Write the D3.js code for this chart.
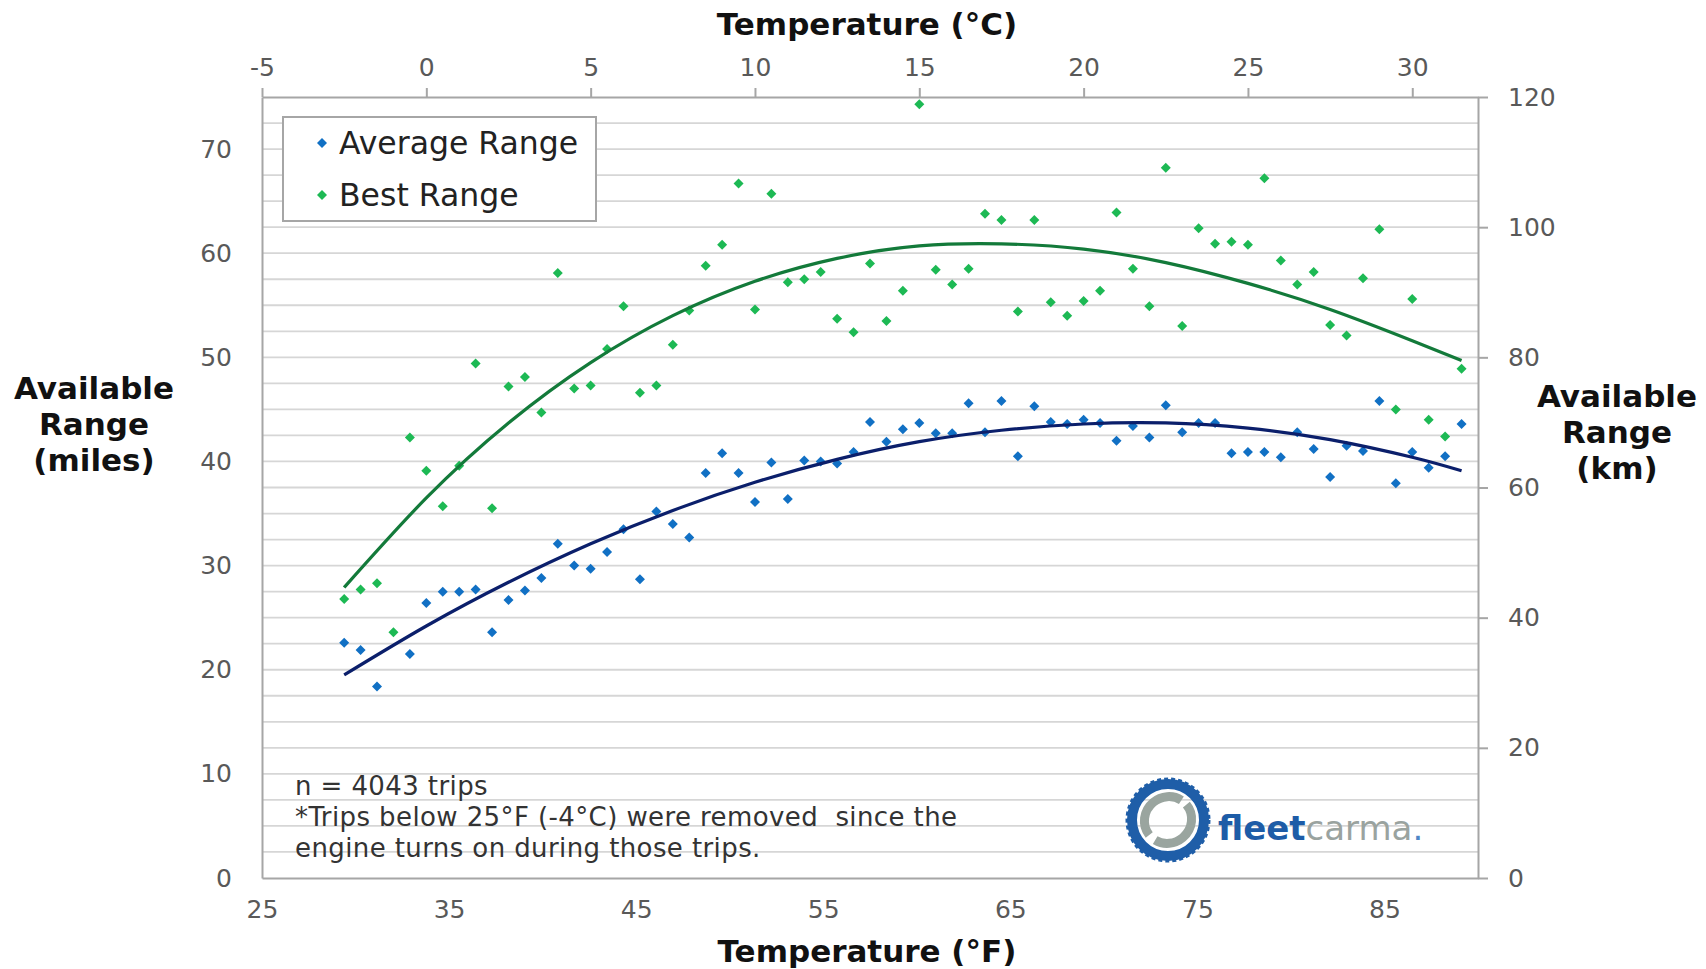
<!DOCTYPE html>
<html>
<head>
<meta charset="utf-8">
<script src="https://cdn.jsdelivr.net/npm/d3@7"></script>
<style>
  html, body { margin: 0; padding: 0; background: #fff; }
  svg { display: block; font-family: 'DejaVu Sans', Verdana, sans-serif; }
</style>
</head>
<body>
<div id="chart"></div>
<script>
// Range vs temperature, 0.5 °C bins
const tempC = [-2.5, -2, -1.5, -1, -0.5, 0, 0.5, 1, 1.5, 2, 2.5, 3, 3.5, 4, 4.5, 5, 5.5, 6, 6.5, 7,
    7.5, 8, 8.5, 9, 9.5, 10, 10.5, 11, 11.5, 12, 12.5, 13, 13.5, 14, 14.5, 15, 15.5, 16, 16.5, 17,
    17.5, 18, 18.5, 19, 19.5, 20, 20.5, 21, 21.5, 22, 22.5, 23, 23.5, 24, 24.5, 25, 25.5, 26, 26.5, 27,
    27.5, 28, 28.5, 29, 29.5, 30, 30.5, 31, 31.5];
const avgRange = [22.6, 21.9, 18.4, null, 21.5, 26.4, 27.5, 27.5, 27.7, 23.6, 26.7, 27.6, 28.8, 32.1, 30.0, 29.7, 31.3, 33.5, 28.7, 35.2,
    34.0, 32.7, 38.9, 40.8, 38.9, 36.1, 39.9, 36.4, 40.1, 40.0, 39.8, 40.9, 43.8, 41.9, 43.1, 43.7, 42.7, 42.7, 45.6, 42.8,
    45.8, 40.5, 45.3, 43.8, 43.6, 44.0, 43.7, 42.0, 43.4, 42.3, 45.4, 42.8, 43.7, 43.7, 40.8, 40.9, 40.9, 40.4, 42.8, 41.2,
    38.5, 41.5, 41.0, 45.8, 37.9, 40.9, 39.4, 40.5, 43.6];
const bestRange = [26.8, 27.7, 28.3, 23.6, 42.3, 39.1, 35.7, 39.6, 49.4, 35.5, 47.2, 48.1, 44.7, 58.1, 47.0, 47.3, 50.8, 54.9, 46.6, 47.3,
    51.2, 54.5, 58.8, 60.8, 66.7, 54.6, 65.7, 57.2, 57.5, 58.2, 53.7, 52.4, 59.0, 53.5, 56.4, 74.3, 58.4, 57.0, 58.5, 63.8,
    63.2, 54.4, 63.2, 55.3, 54.0, 55.4, 56.4, 63.9, 58.5, 54.9, 68.2, 53.0, 62.4, 60.9, 61.1, 60.8, 67.2, 59.3, 57.0, 58.2,
    53.1, 52.1, 57.6, 62.3, 45.0, 55.6, 44.0, 42.4, 48.9];

// trend lines
const trendC = [-2.5, 0, 2.5, 5, 7.5, 10, 12.5, 15, 17.5, 20, 22.5, 25, 27.5, 30, 31.5];
const avgTrend = [19.5, 24.2, 28.4, 32.1, 35.3, 38.0, 40.2, 41.9, 43.0, 43.6, 43.7, 43.2, 42.1, 40.4, 39.1];
const bestTrend = [27.9, 36.5, 43.7, 49.5, 54.0, 57.3, 59.5, 60.7, 60.9, 60.4, 59.1, 57.1, 54.6, 51.6, 49.7];

const fTicks = [25, 35, 45, 55, 65, 75, 85];
const cTicks = [-5, 0, 5, 10, 15, 20, 25, 30];
const mileTicks = [0, 10, 20, 30, 40, 50, 60, 70];
const kmTicks = [0, 20, 40, 60, 80, 100, 120];

const width = 1706, height = 969;
const plot = { left: 262, right: 1478, top: 97, bottom: 878 };
const blue = '#1170c4', green = '#1db954', navy = '#0b1f6b', darkGreen = '#137a3a';
const tickColor = '#595959', axisColor = '#a6a6a6';

const svg = d3.select('#chart').append('svg')
    .attr('width', width)
    .attr('height', height);
svg.append('rect').attr('width', width).attr('height', height).attr('fill', '#fff');

const xF = d3.scaleLinear().domain([25, 90]).range([plot.left, plot.right]);
const xC = d3.scaleLinear().domain([-5, 32]).range([plot.left, plot.right]);
const yMi = d3.scaleLinear().domain([0, 75]).range([plot.bottom, plot.top]);
const yKm = d3.scaleLinear().domain([0, 120]).range([plot.bottom, plot.top]);

// horizontal gridlines every 2.5 miles
svg.append('g')
    .selectAll('line')
    .data(d3.range(2.5, 75, 2.5))
    .enter().append('line')
    .attr('x1', plot.left).attr('x2', plot.right)
    .attr('y1', d => yMi(d)).attr('y2', d => yMi(d))
    .attr('stroke', '#d6d6d6')
    .attr('stroke-width', 1.8);

// axes
const plain = d => String(d);
function styleAxis(g) {
    g.select('.domain').attr('stroke', axisColor).attr('stroke-width', 2);
    g.selectAll('.tick line').attr('stroke', axisColor).attr('stroke-width', 2);
    g.selectAll('.tick text')
        .attr('fill', tickColor)
        .attr('font-size', 25)
        .attr('font-family', "'DejaVu Sans', Verdana, sans-serif");
}
svg.append('g')
    .attr('transform', `translate(0,${plot.bottom})`)
    .call(d3.axisBottom(xF).tickValues(fTicks).tickFormat(plain).tickSize(0).tickPadding(22).tickSizeOuter(0))
    .call(styleAxis);
svg.append('g')
    .attr('transform', `translate(0,${plot.top})`)
    .call(d3.axisTop(xC).tickValues(cTicks).tickFormat(plain).tickSize(9).tickPadding(12).tickSizeOuter(0))
    .call(styleAxis);
svg.append('g')
    .attr('transform', `translate(${plot.left},0)`)
    .call(d3.axisLeft(yMi).tickValues(mileTicks).tickFormat(plain).tickSize(0).tickPadding(30).tickSizeOuter(0))
    .call(styleAxis);
svg.append('g')
    .attr('transform', `translate(${plot.right},0)`)
    .call(d3.axisRight(yKm).tickValues(kmTicks).tickFormat(plain).tickSize(10).tickPadding(20).tickSizeOuter(0))
    .call(styleAxis);

// axis titles
const title = (x, y, lines) => {
    const t = svg.append('text')
        .attr('x', x).attr('y', y)
        .attr('text-anchor', 'middle')
        .attr('font-size', 31)
        .attr('font-weight', 'bold')
        .attr('fill', '#111');
    lines.forEach((l, i) => t.append('tspan').attr('x', x).attr('dy', i ? 36 : 0).text(l));
};
title(867, 35, ['Temperature (°C)']);
title(867, 962, ['Temperature (°F)']);
title(94, 399, ['Available', 'Range', '(miles)']);
title(1617, 407, ['Available', 'Range', '(km)']);

// scatter points (diamonds)
const diamond = d3.symbol().type(d3.symbolSquare).size(50);
const scatter = (vals, color) => {
    svg.append('g')
        .selectAll('path')
        .data(tempC.map((c, i) => [c, vals[i]]).filter(d => d[1] != null))
        .enter().append('path')
        .attr('d', diamond)
        .attr('transform', d => `translate(${xC(d[0])},${yMi(d[1])}) rotate(45)`)
        .attr('fill', color);
};
scatter(avgRange, blue);
scatter(bestRange, green);

// trend lines
const trend = (vs, color) => {
    svg.append('path')
        .datum(trendC.map((c, i) => [c, vs[i]]))
        .attr('fill', 'none')
        .attr('stroke', color)
        .attr('stroke-width', 3.2)
        .attr('d', d3.line().x(d => xC(d[0])).y(d => yMi(d[1])).curve(d3.curveNatural));
};
trend(avgTrend, navy);
trend(bestTrend, darkGreen);

// legend
const legend = svg.append('g');
legend.append('rect')
    .attr('x', 283).attr('y', 117).attr('width', 313).attr('height', 104)
    .attr('fill', '#fff').attr('stroke', '#a6a6a6').attr('stroke-width', 2);
[['Average Range', blue], ['Best Range', green]].forEach(([name, color], i) => {
    const cy = 143 + i * 52;
    legend.append('path')
        .attr('d', diamond)
        .attr('transform', `translate(322,${cy}) rotate(45)`)
        .attr('fill', color);
    legend.append('text')
        .attr('x', 339).attr('y', cy + 11)
        .attr('font-size', 31.5)
        .attr('fill', '#222')
        .text(name);
});

// notes
const notes = ['n = 4043 trips', '*Trips below 25°F (-4°C) were removed  since the', 'engine turns on during those trips.'];
const note = svg.append('text')
    .attr('x', 295).attr('y', 795)
    .attr('font-size', 26)
    .attr('letter-spacing', 0.4)
    .attr('fill', '#333');
notes.forEach((l, i) => note.append('tspan').attr('x', 295).attr('dy', i ? 31 : 0).attr('xml:space', 'preserve').text(l));

// fleetcarma logo
const logo = svg.append('g').attr('transform', 'translate(1168,820)');
logo.append('circle').attr('r', 36).attr('fill', 'none').attr('stroke', '#1f5ea8').attr('stroke-width', 10);
logo.append('circle').attr('r', 41).attr('fill', 'none').attr('stroke', '#1f5ea8')
    .attr('stroke-width', 3).attr('stroke-dasharray', '4 3');
logo.append('ellipse').attr('rx', 24).attr('ry', 23).attr('fill', 'none').attr('stroke', '#9aa59f')
    .attr('stroke-width', 9).attr('stroke-dasharray', '66 8 66 8')
    .attr('transform', 'rotate(-40)');
const logoText = svg.append('text')
    .attr('x', 1218).attr('y', 840)
    .attr('font-size', 34);
logoText.append('tspan').attr('fill', '#1d5ca7').attr('font-weight', 600).text('fleet');
logoText.append('tspan').attr('fill', '#9aa39f').text('carma');
logoText.append('tspan').attr('fill', '#4f86c6').text('.');
</script>
</body>
</html>
